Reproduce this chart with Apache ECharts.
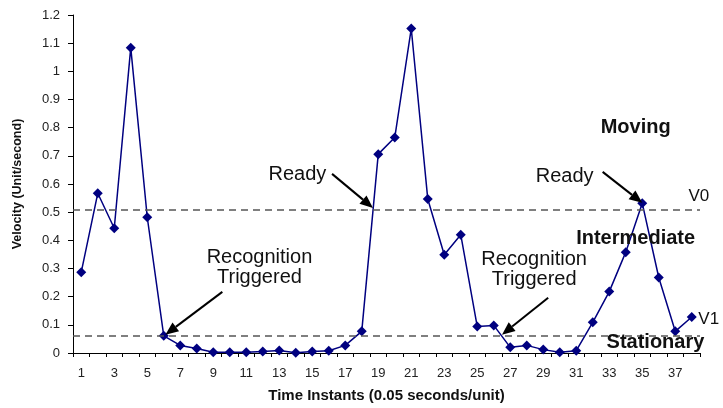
<!DOCTYPE html>
<html>
<head>
<meta charset="utf-8">
<script src="https://cdn.jsdelivr.net/npm/echarts@6/dist/echarts.min.js"></script>
<style>
html, body { margin: 0; padding: 0; background: #fff; }
#chart { width: 723px; height: 408px; }
</style>
</head>
<body>
<div id="chart"></div>
<script>
// Time instants (0.05 s per unit)
const timeInstants = ['1','2','3','4','5','6','7','8','9','10','11','12','13','14','15','16','17','18','19',
  '20','21','22','23','24','25','26','27','28','29','30','31','32','33','34','35','36','37','38'];

// Measured velocity (unit/second) at each instant
const velocity = [0.287, 0.567, 0.443, 1.084, 0.482, 0.061, 0.027, 0.016, 0.003, 0.003,
  0.003, 0.005, 0.009, 0.001, 0.005, 0.008, 0.027, 0.077, 0.706, 0.765,
  1.152, 0.547, 0.349, 0.420, 0.094, 0.098, 0.020, 0.027, 0.012, 0.003,
  0.008, 0.109, 0.218, 0.358, 0.532, 0.268, 0.077, 0.128];

// Velocity axis range
const yMin = 0;
const yMax = 1.2;
const yStep = 0.1;

// Threshold levels
const thresholdNames = ['V0', 'V1'];
const thresholdValues = [0.507, 0.06];

// Region labels and event annotations, anchored in data space (x = category index)
const regionNames = ['Moving', 'Intermediate', 'Stationary'];
const regionAnchors = [[33.6, 0.802], [33.6, 0.405], [34.8, 0.037]];

const noteTexts = ['Recognition\nTriggered', 'Ready', 'Recognition\nTriggered', 'Ready'];
const noteAnchors = [[10.8, 0.302], [13.1, 0.633], [27.45, 0.295], [29.3, 0.626]];
const arrowFrom = [[8.55, 0.217], [15.2, 0.636], [28.3, 0.196], [31.6, 0.643]];
const arrowTo = [[5.1, 0.065], [17.68, 0.515], [25.5, 0.065], [34.0, 0.533]];

const FONT = '"Liberation Sans", Arial, Helvetica, sans-serif';

const chart = echarts.init(document.getElementById('chart'), null, { renderer: 'canvas' });

chart.setOption({
  animation: false,
  backgroundColor: '#ffffff',
  grid: { left: 73, right: 23, top: 15, bottom: 55, containLabel: false },
  xAxis: {
    type: 'category',
    data: timeInstants,
    boundaryGap: true,
    name: 'Time Instants (0.05 seconds/unit)',
    nameLocation: 'middle',
    nameGap: 35,
    nameTextStyle: { fontFamily: FONT, fontSize: 15, fontWeight: 'bold', color: '#111' },
    axisLine: { lineStyle: { color: '#000', width: 1 } },
    axisTick: { show: true, interval: 0, length: 4, lineStyle: { color: '#000' } },
    axisLabel: { interval: 1, margin: 14, fontFamily: FONT, fontSize: 13, color: '#222' },
    splitLine: { show: false }
  },
  yAxis: {
    type: 'value',
    min: yMin,
    max: yMax,
    interval: yStep,
    name: 'Velocity (Unit/second)',
    nameLocation: 'middle',
    nameRotate: 90,
    nameGap: 49,
    nameTextStyle: { fontFamily: FONT, fontSize: 12.5, fontWeight: 'bold', color: '#111' },
    axisLine: { show: true, lineStyle: { color: '#000', width: 1 } },
    axisTick: { show: true, length: 5, lineStyle: { color: '#000' } },
    axisLabel: { margin: 13, fontFamily: FONT, fontSize: 13, color: '#222' },
    splitLine: { show: false }
  },
  series: [{
    type: 'line',
    data: velocity,
    symbol: 'diamond',
    symbolSize: 10,
    showSymbol: true,
    lineStyle: { color: '#000080', width: 1.5 },
    itemStyle: { color: '#000080' },
    markLine: {
      silent: true,
      symbol: 'none',
      label: { show: false },
      lineStyle: { color: '#555555', width: 1.5, type: [7, 5] },
      data: thresholdValues.map(v => ({ yAxis: v }))
    },
    z: 3
  }]
});

// Pixel position for a (possibly fractional) category index and a velocity value
function toPx(xi, v) {
  const i0 = Math.floor(xi);
  const f = xi - i0;
  const a = chart.convertToPixel({ xAxisIndex: 0, yAxisIndex: 0 }, [i0, v]);
  const b = chart.convertToPixel({ xAxisIndex: 0, yAxisIndex: 0 }, [i0 + 1, v]);
  return [a[0] + (b[0] - a[0]) * f, a[1]];
}

function textEl(str, pos, size, weight, align) {
  return {
    type: 'text',
    z: 10,
    style: {
      text: str,
      x: pos[0],
      y: pos[1],
      fontFamily: FONT,
      fontSize: size,
      fontWeight: weight,
      lineHeight: size,
      fill: '#111',
      align: align || 'center',
      textAlign: align || 'center',
      verticalAlign: 'middle',
      textVerticalAlign: 'middle'
    }
  };
}

function arrowEls(fromData, toData) {
  const p0 = toPx(fromData[0], fromData[1]);
  const p1 = toPx(toData[0], toData[1]);
  const dx = p1[0] - p0[0], dy = p1[1] - p0[1];
  const len = Math.sqrt(dx * dx + dy * dy);
  const ux = dx / len, uy = dy / len;
  const headLen = 13, headHalf = 5.5;
  const base = [p1[0] - ux * headLen, p1[1] - uy * headLen];
  return [
    {
      type: 'line', z: 9,
      shape: { x1: p0[0], y1: p0[1], x2: base[0], y2: base[1] },
      style: { stroke: '#000', lineWidth: 2 }
    },
    {
      type: 'polygon', z: 9,
      shape: { points: [
        [p1[0], p1[1]],
        [base[0] - uy * headHalf, base[1] + ux * headHalf],
        [base[0] + uy * headHalf, base[1] - ux * headHalf]
      ] },
      style: { fill: '#000' }
    }
  ];
}

const graphics = [];
noteTexts.forEach((t, k) => {
  graphics.push(textEl(t, toPx(noteAnchors[k][0], noteAnchors[k][1]), 20, 'normal'));
  arrowEls(arrowFrom[k], arrowTo[k]).forEach(e => graphics.push(e));
});
regionNames.forEach((t, k) => {
  graphics.push(textEl(t, toPx(regionAnchors[k][0], regionAnchors[k][1]), 20, 'bold'));
});
// Threshold names sit just above the right end of each dashed line
const thresholdLabelX = [36.8, 37.4];
const thresholdLift = [0.048, 0.058];
thresholdNames.forEach((t, k) => {
  graphics.push(textEl(t, toPx(thresholdLabelX[k], thresholdValues[k] + thresholdLift[k]), 17, 'normal', 'left'));
});

chart.setOption({ graphic: graphics });
</script>
</body>
</html>
